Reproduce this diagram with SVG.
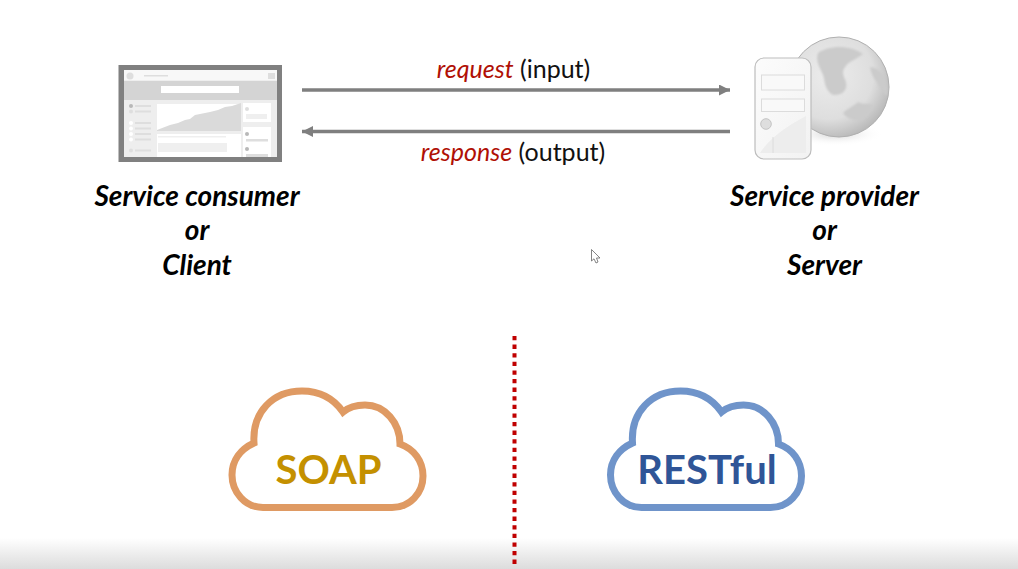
<svg xmlns="http://www.w3.org/2000/svg" width="1018" height="569" viewBox="0 0 1018 569">
<style>
text{font-family:Lato,"Open Sans","Liberation Sans",sans-serif}
.lbl{font-size:28px;font-weight:700;font-style:italic;fill:#000;text-anchor:middle}
.cap{font-size:25px;fill:#111;text-anchor:middle}
.red{fill:#b01005;font-style:italic}
.cloud{fill:#fff;stroke-width:7;stroke-linejoin:miter}
.big{font-size:40px;font-weight:700;text-anchor:middle}
.conn{stroke:#7f7f7f;stroke-width:3.4;fill:none}
.p{fill:#dedede}.q{fill:#efefef}.w{fill:#fff}.d{fill:#b8b8b8}
</style>
<defs>
<filter id="soft" x="-5%" y="-5%" width="110%" height="110%"><feGaussianBlur stdDeviation="0.7"/></filter>
<filter id="soft2" x="-20%" y="-20%" width="140%" height="140%"><feGaussianBlur stdDeviation="0.9"/></filter>
<marker id="ah" markerUnits="userSpaceOnUse" markerWidth="12" markerHeight="11" refX="11" refY="5.5" orient="auto-start-reverse"><path d="M0 0L11 5.5L0 11Z" fill="#7f7f7f"/></marker>
<linearGradient id="floor" x1="0" y1="0" x2="0" y2="1"><stop offset="0" stop-color="#fff"/><stop offset="1" stop-color="#dcdcdc"/></linearGradient>
<radialGradient id="globe" cx="0.4" cy="0.38" r="0.68"><stop offset="0" stop-color="#ececec"/><stop offset="0.65" stop-color="#dedede"/><stop offset="1" stop-color="#b4b4b4"/></radialGradient>
<linearGradient id="tower" x1="0" y1="0" x2="1" y2="1"><stop offset="0" stop-color="#fcfcfc"/><stop offset="1" stop-color="#f2f2f2"/></linearGradient>
<radialGradient id="shade"><stop offset="0" stop-color="#d4d4d4"/><stop offset="1" stop-color="#fff" stop-opacity="0"/></radialGradient>
<path id="cl" d="M263 507.500H392C410 507.500 423 493 423 476C423 461 414 449 400 444C400 423 385 405 365 405C357 405 349 407 343 412C334 399 320 391 302 391C273 391 252 412 254 443C241 449 232 460 232 475C232 492 245 507.500 263 507.500Z"/>
</defs>
<rect width="1018" height="569" fill="#fff"/>
<rect y="538" width="1018" height="31" fill="url(#floor)"/>

<g id="connectors">
<line class="conn" x1="302" y1="90" x2="730" y2="90" marker-end="url(#ah)"/>
<line class="conn" x1="730" y1="131.500" x2="302" y2="131.500" marker-end="url(#ah)"/>
<line id="divider" x1="514.500" y1="336" x2="514.500" y2="565" stroke="#c00000" stroke-width="4" stroke-dasharray="4.3 4.3"/>
</g>

<g id="request-label"><text class="cap" x="513.500" y="78"><tspan class="red">request</tspan> (input)</text></g>
<g id="response-label"><text class="cap" x="513" y="161"><tspan class="red">response</tspan> (output)</text></g>

<g id="client">
<rect x="118.500" y="65" width="163.500" height="97" fill="#808080"/>
<g filter="url(#soft)">
<rect x="124" y="70" width="153" height="87" fill="#eeeeee"/>
<rect x="124" y="70" width="153" height="10" fill="#f8f8f8"/>
<rect x="124" y="81" width="153" height="19" fill="#d4d4d4"/>
<rect x="161" y="86" width="78" height="7" class="w"/>
<circle cx="130" cy="76" r="3.500" class="p"/>
<rect x="144" y="75" width="24" height="1.500" class="p"/>
<rect x="268" y="73" width="7" height="6" class="p"/>
<rect x="157" y="104" width="84" height="27" class="w"/>
<path d="M157 130L170 125L178 123L185 120L190 119L195 115L210 112L218 110L225 107L232 106L241 103V131H157Z" fill="#dadada"/>
<rect x="157" y="134" width="84" height="23" class="w"/>
<rect x="158" y="143" width="69" height="9" class="q"/>
<rect x="158" y="136" width="68" height="1.500" class="q"/>
<rect x="243" y="103" width="28" height="19" class="w"/>
<rect x="243" y="127" width="28" height="30" class="w"/>
<rect x="246" y="114" width="21" height="5" class="q"/>
<rect x="246" y="139" width="22" height="2.500" class="p"/>
<rect x="246" y="154" width="22" height="3" class="p"/>
<circle cx="247" cy="109" r="2" class="p"/>
<circle cx="247" cy="134" r="2" class="d"/>
<circle cx="247" cy="149" r="2" class="d"/>
<circle cx="131" cy="106" r="2" class="d"/>
<circle cx="131" cy="111.500" r="2" class="p"/>
<circle cx="131" cy="123" r="2" class="w"/>
<circle cx="131" cy="128.500" r="2" class="w"/>
<circle cx="131" cy="134" r="2" class="w"/>
<circle cx="131" cy="139.500" r="2" class="w"/>
<circle cx="131" cy="150.500" r="2" class="p"/>
<rect x="135" y="105" width="16" height="2" class="p"/>
<rect x="135" y="110.500" width="16" height="2" class="p"/>
<rect x="135" y="122" width="16" height="2" class="p"/>
<rect x="135" y="127.500" width="16" height="2" class="p"/>
<rect x="135" y="133" width="16" height="2" class="p"/>
<rect x="135" y="138.500" width="16" height="2" class="p"/>
<rect x="135" y="149.500" width="16" height="2" class="p"/>
</g>
<text class="lbl" x="197" y="206">Service consumer</text>
<text class="lbl" x="197" y="240">or</text>
<text class="lbl" x="197" y="275">Client</text>
</g>

<g id="server">
<ellipse cx="835" cy="134" rx="48" ry="12" fill="url(#shade)"/>
<circle cx="839" cy="87" r="50" fill="url(#globe)" stroke="#b0b0b0" stroke-width="1"/>
<g fill="#cbcbcb" filter="url(#soft2)">
<path d="M818 53C828 46 848 44 863 54C855 60 848 62 846 66C840 72 845 78 846 82C848 90 842 96 833 95C824 90 825 80 823 75C820 68 815 60 818 53Z"/>
<path d="M843 113C848 108 854 106 858 102C864 105 868 103 873 105C870 114 866 118 860 121C852 120 846 118 843 113Z"/>
<path d="M870 67C878 68 884 74 885 78C888 86 888 92 887 96C880 90 878 84 877 82C873 78 871 72 870 67Z"/>
</g>
<rect x="755" y="58" width="56" height="101" rx="9" fill="url(#tower)" stroke="#bdbdbd" stroke-width="1.200"/>
<path d="M760 153C768 140 785 127 806 116V153Z" fill="#ededed" filter="url(#soft)"/>
<rect x="761.500" y="75" width="43" height="15" fill="#f9f9f9" stroke="#dcdcdc"/>
<rect x="761.500" y="99" width="43" height="12.500" fill="#f9f9f9" stroke="#dcdcdc"/>
<circle cx="766" cy="124" r="5.300" fill="#dedede" stroke="#c4c4c4"/>
<line x1="773" y1="137" x2="773" y2="153" stroke="#dcdcdc"/>
<text class="lbl" x="824.500" y="206">Service provider</text>
<text class="lbl" x="824.500" y="240">or</text>
<text class="lbl" x="824.500" y="275">Server</text>
</g>

<g id="soap">
<use href="#cl" class="cloud" stroke="#df9a63"/>
<text class="big" x="328.500" y="483.500" fill="#c49000">SOAP</text>
</g>
<g id="restful">
<use href="#cl" class="cloud" stroke="#6f94ca" x="378.500"/>
<text class="big" x="707" y="483.500" fill="#2f5597">RESTful</text>
</g>

<path id="cursor" d="M591.500 249.500V261L594 258.800L596 263L598 262L596.500 258H600Z" fill="#fff" stroke="#666" stroke-width="0.800"/>
</svg>
